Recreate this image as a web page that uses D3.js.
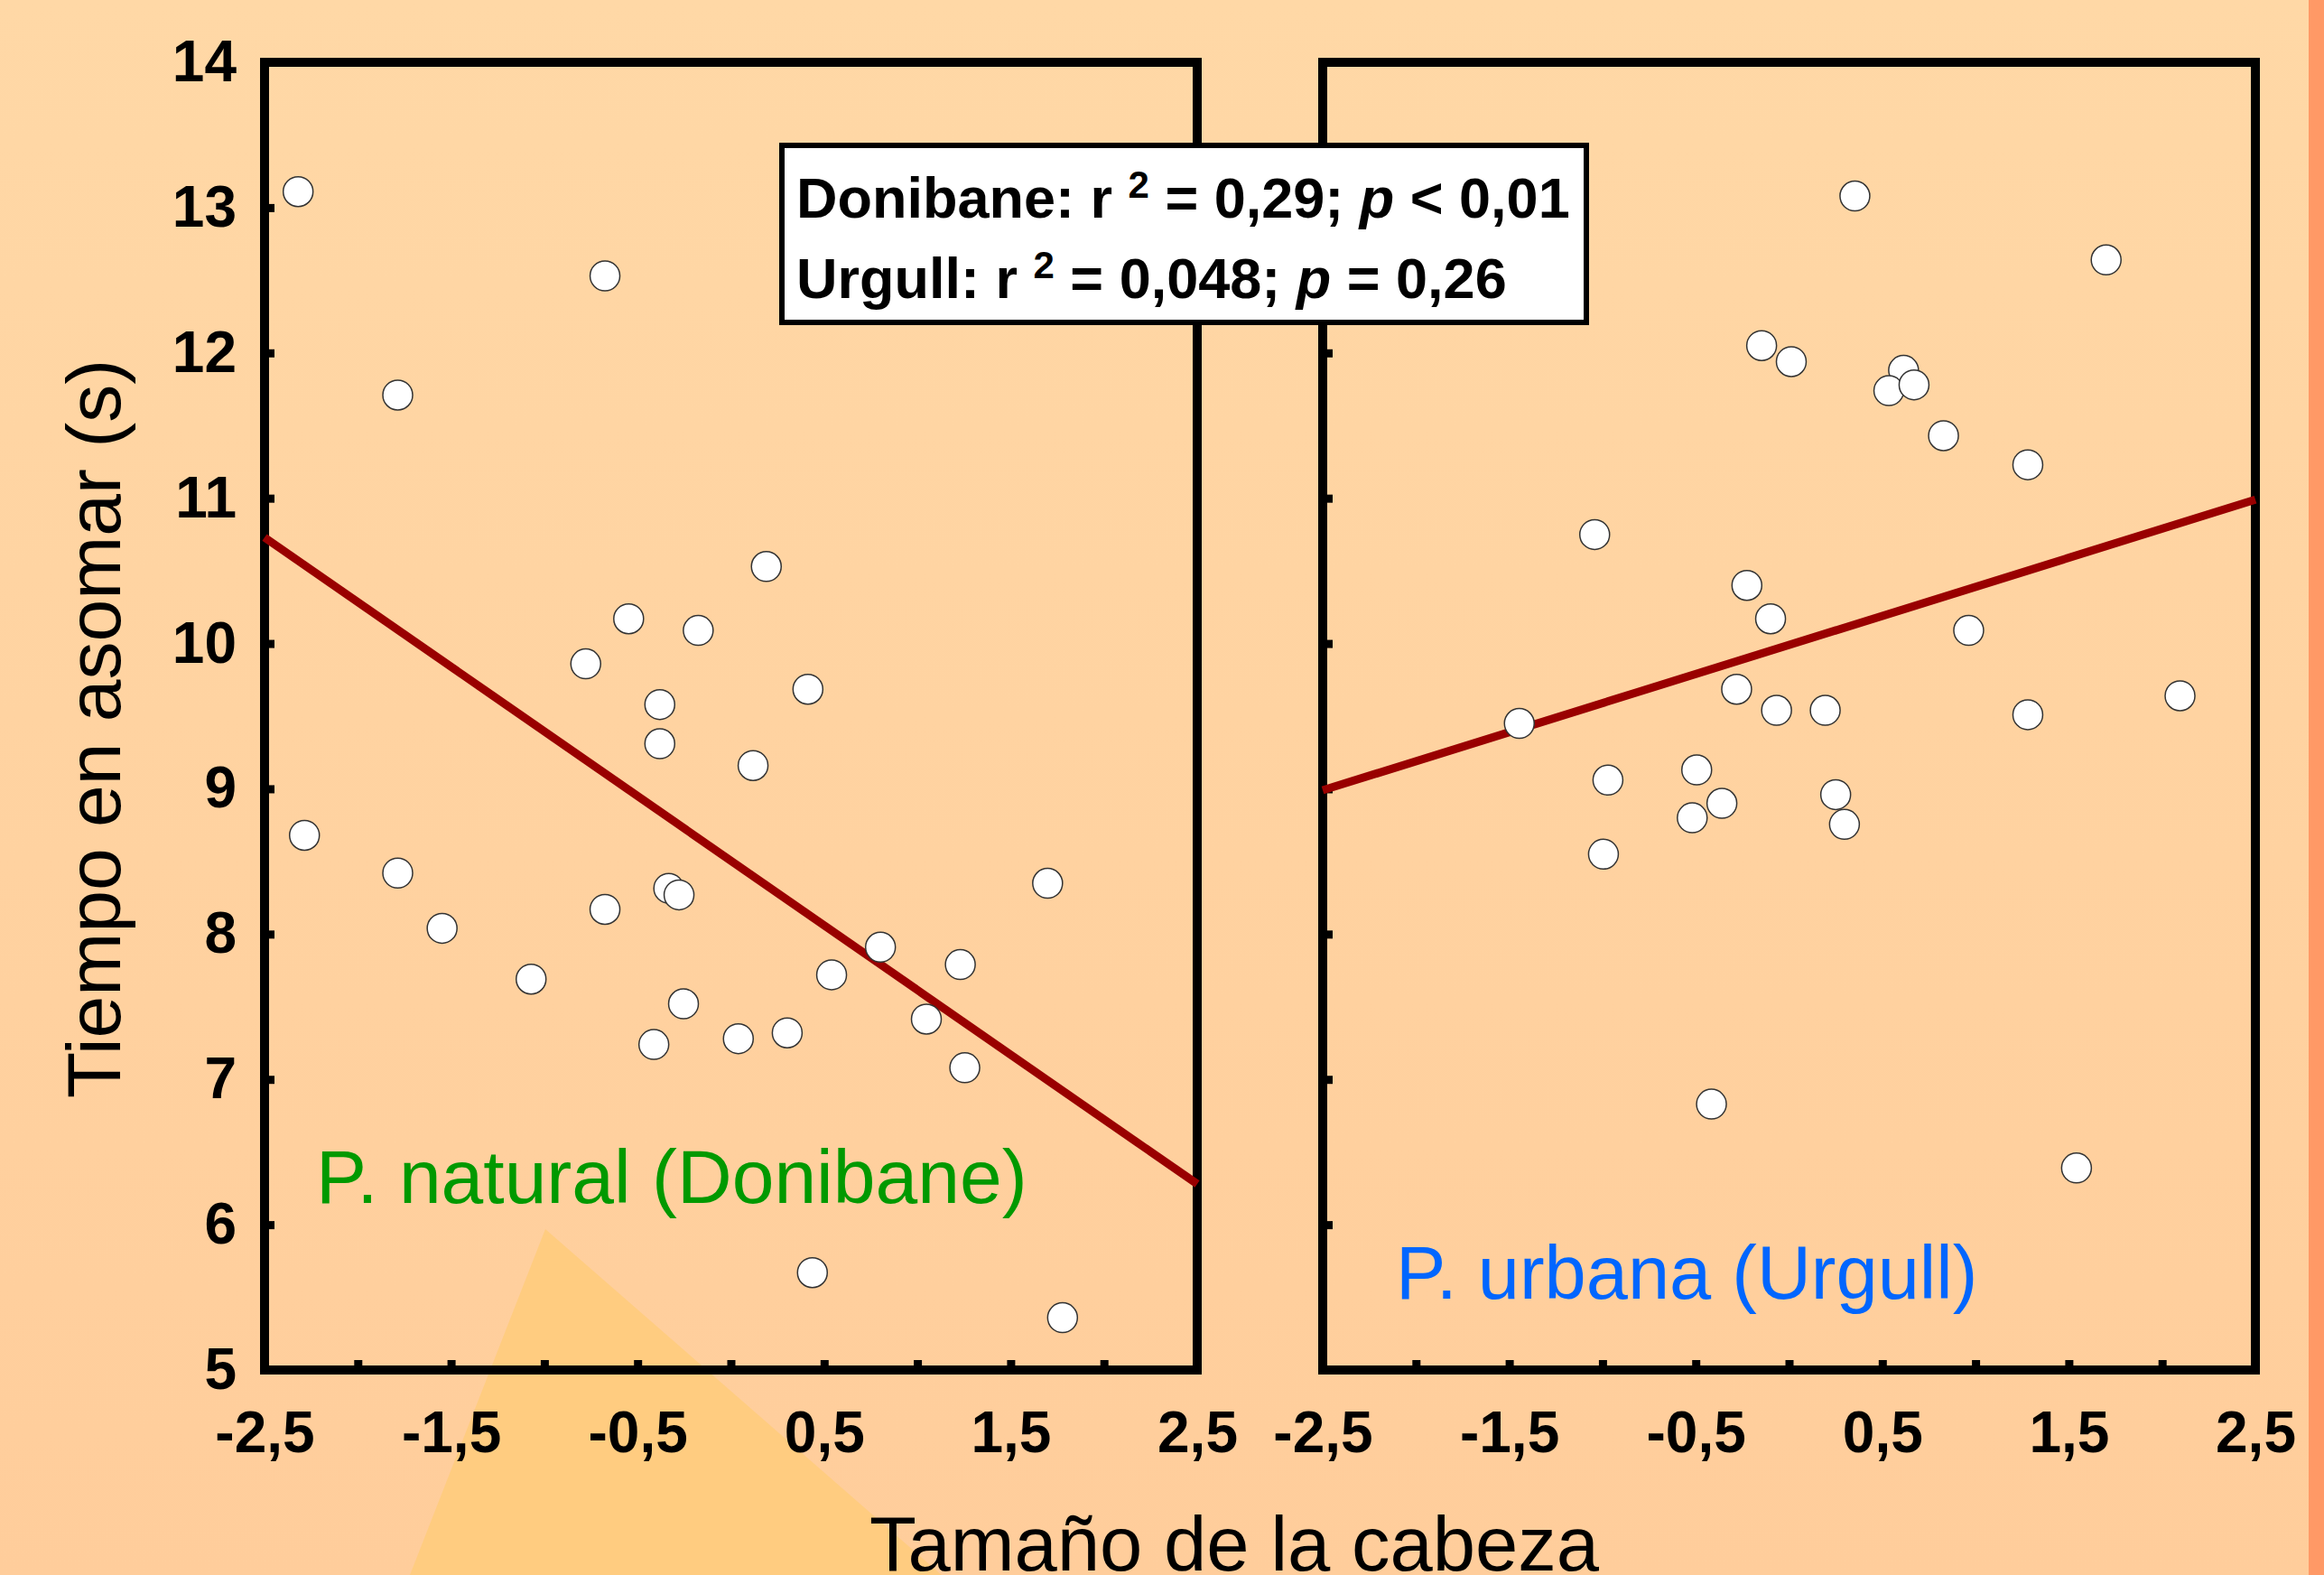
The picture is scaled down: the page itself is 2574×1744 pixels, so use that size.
<!DOCTYPE html>
<html>
<head>
<meta charset="utf-8">
<script src="https://cdn.jsdelivr.net/npm/d3@7"></script>
<style>
  html, body { margin: 0; padding: 0; background: #FFD4A2; }
  svg { display: block; }
  text { font-family: "Liberation Sans", Arial, sans-serif; }
</style>
</head>
<body>
<svg id="chart" width="2574" height="1744"></svg>
<script>
/*
 * Data: head size (x) vs time to emerge (y), one array per population
 */
var donibaneX = [-2.32, -0.675, -1.786, 0.19, -0.548, -0.175, -0.778, 0.413, -0.381, -0.381,
                 0.119, -2.286, -1.786, 1.698, -0.333, -0.278, -0.675, -1.548, 0.802, 1.23,
                 0.54, -1.071, -0.254, 1.048, 0.302, 0.04, -0.413, 1.254, 0.437, 1.778];
var donibaneY = [13.11, 12.53, 11.71, 10.53, 10.17, 10.09, 9.86, 9.685, 9.58, 9.31,
                 9.16, 8.68, 8.42, 8.35, 8.315, 8.27, 8.17, 8.04, 7.91, 7.79,
                 7.72, 7.69, 7.52, 7.415, 7.32, 7.28, 7.24, 7.08, 5.67, 5.36];

var urgullX = [0.353, 1.70, -0.147, 0.012, 0.614, 0.535, 0.67, 0.828, 1.28, -1.042,
               -0.226, -0.099, 0.963, -1.446, -0.281, -0.067, 0.194, 2.096, 1.28, -0.495,
               -0.971, 0.25, -0.36, -0.519, 0.297, -0.995, -0.416, 1.541];
var urgullY = [13.08, 12.64, 12.05, 11.94, 11.88, 11.74, 11.78, 11.43, 11.23, 10.75,
               10.40, 10.17, 10.09, 9.45, 9.685, 9.54, 9.54, 9.64, 9.51, 9.13,
               9.06, 8.96, 8.90, 8.80, 8.755, 8.55, 6.83, 6.39];

// regression line, value at x = -2.5 and x = 2.5
var fitX = [-2.5, 2.5],
    donibaneFit = [10.73, 6.28],
    urgullFit = [8.99, 10.99];

/*
 * Axis variables
 */
var X_DOMAIN = [-2.5, 2.5],
    Y_DOMAIN = [5, 14],
    X_TICKS = [-2, -1.5, -1, -0.5, 0, 0.5, 1, 1.5, 2],
    X_LABELS = [-2.5, -1.5, -0.5, 0.5, 1.5, 2.5],
    Y_TICKS = [5, 6, 7, 8, 9, 10, 11, 12, 13, 14];

var X_TITLE = 'Tamaño de la cabeza',
    Y_TITLE = 'Tiempo en asomar (s)',
    LABEL_DONIBANE = 'P. natural (Donibane)',
    LABEL_URGULL = 'P. urbana (Urgull)';

/*
 * Style variables
 */
var POINT_RAD = 16.5,
    FRAME_W = 10,
    LINE_COLOR = '#990000';

function fmt(v) {
    return String(v).replace('.', ',');
}

function createBackground(svg) {
    var grad = svg.append('defs')
        .append('linearGradient')
        .attr('id', 'bg-grad')
        .attr('x1', 0).attr('y1', 0)
        .attr('x2', 0).attr('y2', 1);
    grad.append('stop').attr('offset', '0%').attr('stop-color', '#FFD8A6');
    grad.append('stop').attr('offset', '100%').attr('stop-color', '#FFCD9B');

    svg.append('rect')
        .attr('width', 2574).attr('height', 1744)
        .style('fill', 'url(#bg-grad)');

    // light triangle in the lower left corner
    svg.append('path')
        .attr('d', 'M 604 1361 L 454 1744 L 1043 1744 Z')
        .attr('fill', '#FFCC80');

    // orange strip on the right edge
    svg.append('rect')
        .attr('x', 2557).attr('y', 0)
        .attr('width', 17).attr('height', 1744)
        .attr('fill', '#FF9966');
}

function styleLabels(a) {
    a.select('.domain').remove();
    a.selectAll('text')
        .attr('fill', 'black')
        .style('font-family', '"Liberation Sans", Arial, sans-serif')
        .style('font-size', '64px')
        .style('font-weight', 'bold');
}

function styleTicks(a) {
    a.select('.domain').remove();
    a.selectAll('line').attr('stroke', 'black').attr('stroke-width', 9);
}

function drawPanel(svg, x, y, xs, ys, fit, showYLabels) {
    var g = svg.append('g');
    var bottom = y.range()[0];
    var left = x.range()[0];

    // inward tick marks
    g.append('g')
        .attr('transform', 'translate(0,' + bottom + ')')
        .call(d3.axisBottom(x).tickValues(X_TICKS).tickSize(-11).tickFormat(''))
        .call(styleTicks);

    g.append('g')
        .attr('transform', 'translate(' + left + ',0)')
        .call(d3.axisLeft(y).tickValues(Y_TICKS).tickSize(-11).tickFormat(''))
        .call(styleTicks);

    // x labels
    g.append('g')
        .attr('transform', 'translate(0,' + bottom + ')')
        .call(d3.axisBottom(x).tickValues(X_LABELS).tickSize(0).tickPadding(46).tickFormat(fmt))
        .call(styleLabels);

    if (showYLabels) {
        g.append('g')
            .attr('transform', 'translate(' + left + ',0)')
            .call(d3.axisLeft(y).tickValues(Y_TICKS).tickSize(0).tickPadding(31))
            .call(styleLabels);
    }

    // frame
    g.append('rect')
        .attr('x', x.range()[0])
        .attr('y', y.range()[1])
        .attr('width', x.range()[1] - x.range()[0])
        .attr('height', y.range()[0] - y.range()[1])
        .attr('fill', 'none')
        .attr('stroke', 'black')
        .attr('stroke-width', FRAME_W);

    // regression line
    var line = d3.line()
        .x(function (d, i) { return x(fitX[i]); })
        .y(function (d) { return y(d); });

    g.append('path')
        .datum(fit)
        .attr('d', line)
        .attr('fill', 'none')
        .attr('stroke', LINE_COLOR)
        .attr('stroke-width', 9);

    // points
    g.selectAll('circle')
        .data(xs)
        .enter()
        .append('circle')
        .attr('cx', function (d) { return x(d); })
        .attr('cy', function (d, i) { return y(ys[i]); })
        .attr('r', POINT_RAD)
        .attr('fill', 'white')
        .attr('stroke', '#333')
        .attr('stroke-width', 1.5);

    return g;
}

function drawStatsBox(svg) {
    var box = svg.append('g');
    box.append('rect')
        .attr('x', 866).attr('y', 161)
        .attr('width', 891).attr('height', 196)
        .attr('fill', 'white')
        .attr('stroke', 'black')
        .attr('stroke-width', 6);

    var rows = [
        ['Donibane: r ', ' = 0,29; ', ' < 0,01'],
        ['Urgull: r ', ' = 0,048; ', ' = 0,26']
    ];
    var baselines = [241, 330];

    rows.forEach(function (r, i) {
        var t = box.append('text')
            .attr('x', 882).attr('y', baselines[i])
            .style('font-size', '63px')
            .style('font-weight', 'bold')
            .attr('xml:space', 'preserve');
        t.append('tspan').text(r[0]);
        t.append('tspan').attr('dy', -22).style('font-size', '42px').text('2');
        t.append('tspan').attr('dy', 22).text(r[1]);
        t.append('tspan').style('font-style', 'italic').text('p');
        t.append('tspan').text(r[2]);
    });
}

function initChart() {
    var svg = d3.select('#chart');

    createBackground(svg);

    var y = d3.scaleLinear().domain(Y_DOMAIN).range([1517, 69]);
    var xLeft = d3.scaleLinear().domain(X_DOMAIN).range([293, 1326]);
    var xRight = d3.scaleLinear().domain(X_DOMAIN).range([1465, 2498]);

    drawPanel(svg, xLeft, y, donibaneX, donibaneY, donibaneFit, true);
    drawPanel(svg, xRight, y, urgullX, urgullY, urgullFit, false);

    // population labels
    svg.append('text')
        .attr('x', 350).attr('y', 1332)
        .attr('fill', '#009900')
        .style('font-size', '84px')
        .text(LABEL_DONIBANE);

    svg.append('text')
        .attr('x', 1546).attr('y', 1438)
        .attr('fill', '#0066FF')
        .style('font-size', '83px')
        .text(LABEL_URGULL);

    // axis titles
    svg.append('text')
        .attr('x', 963).attr('y', 1739)
        .style('font-size', '85px')
        .text(X_TITLE);

    svg.append('text')
        .attr('transform', 'translate(133,807) rotate(-90)')
        .attr('text-anchor', 'middle')
        .style('font-size', '84px')
        .text(Y_TITLE);

    drawStatsBox(svg);
}

(function () {
    initChart();
})();
</script>
</body>
</html>
